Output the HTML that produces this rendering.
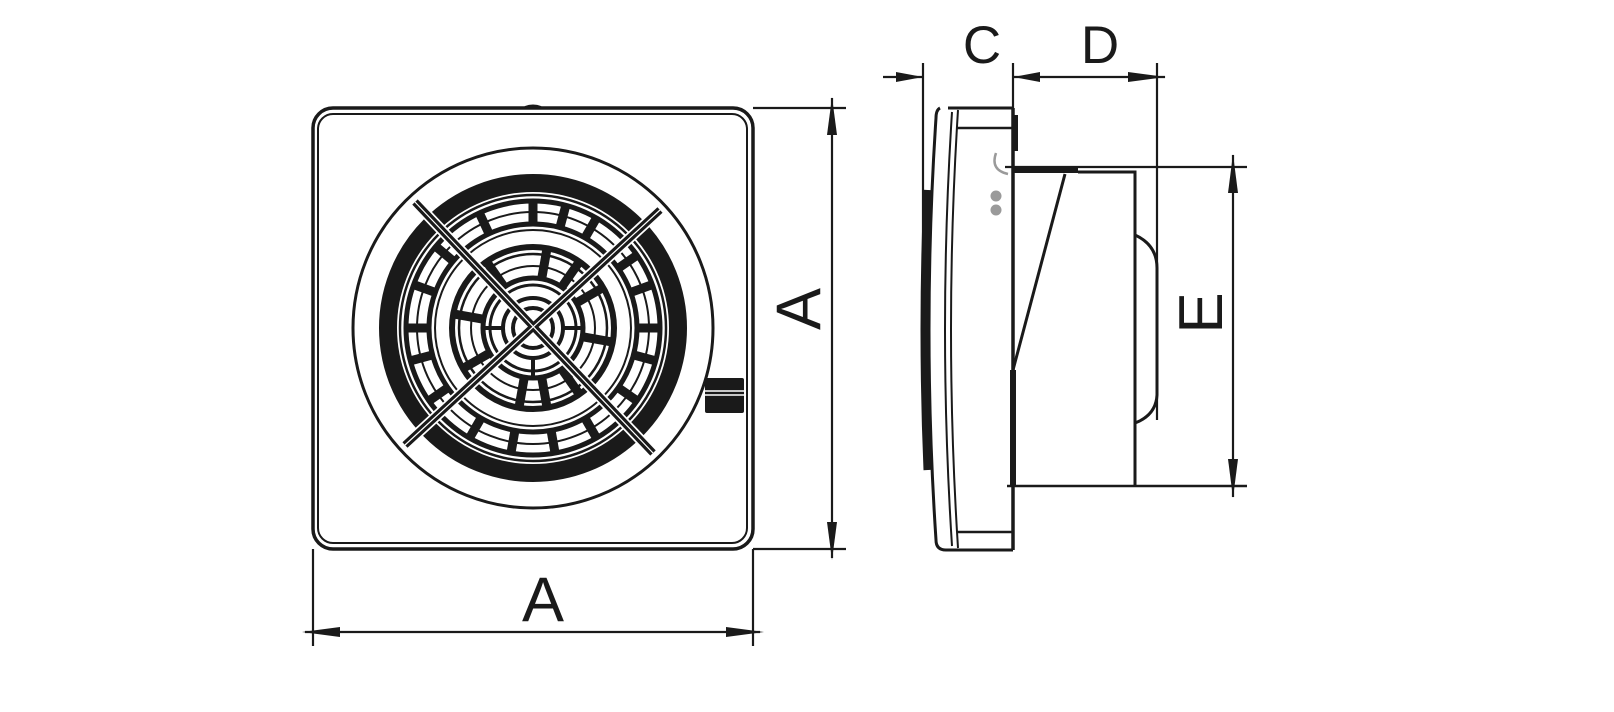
<!DOCTYPE html>
<html><head><meta charset="utf-8"><style>html,body{margin:0;padding:0;background:#fff}svg{display:block}</style></head>
<body>
<svg width="1614" height="712" viewBox="0 0 1614 712" xmlns="http://www.w3.org/2000/svg" font-family="Liberation Sans, sans-serif" fill="none" stroke="#1a1a1a">
<!-- FRONT VIEW -->
<rect x="313" y="108" width="440" height="441" rx="20" stroke-width="3.5"/>
<rect x="318" y="114" width="429" height="429" rx="15" stroke-width="2"/>
<path d="M525,107 Q533,104 541,107" stroke-width="2"/>
<circle cx="533" cy="328" r="180" stroke-width="3"/>
<g transform="translate(533,328)">
  <circle r="145" stroke-width="18"/>
  <circle r="133" stroke-width="2.5"/>
  <circle r="127" stroke-width="5"/>
  <circle r="116" stroke-width="2"/>
  <circle r="104" stroke-width="5"/>
  <circle r="98" stroke-width="2"/>
  <circle r="81" stroke-width="6"/>
  <circle r="74" stroke-width="2.5"/>
  <circle r="62" stroke-width="2"/>
  <circle r="50" stroke-width="5"/>
  <circle r="43" stroke-width="3"/>
  <circle r="30" stroke-width="4"/>
  <circle r="20" stroke-width="4"/>
  <circle r="5" stroke-width="3"/>
  <g stroke-width="9">
    <line x1="0" y1="-104" x2="0" y2="-128"/>
    <line x1="0" y1="-104" x2="0" y2="-128" transform="rotate(15)"/>
    <line x1="0" y1="-104" x2="0" y2="-128" transform="rotate(30)"/>
    <line x1="0" y1="-104" x2="0" y2="-128" transform="rotate(55)"/>
    <line x1="0" y1="-104" x2="0" y2="-128" transform="rotate(70)"/>
    <line x1="0" y1="-104" x2="0" y2="-128" transform="rotate(90)"/>
    <line x1="0" y1="-104" x2="0" y2="-128" transform="rotate(105)"/>
    <line x1="0" y1="-104" x2="0" y2="-128" transform="rotate(125)"/>
    <line x1="0" y1="-104" x2="0" y2="-128" transform="rotate(150)"/>
    <line x1="0" y1="-104" x2="0" y2="-128" transform="rotate(170)"/>
    <line x1="0" y1="-104" x2="0" y2="-128" transform="rotate(190)"/>
    <line x1="0" y1="-104" x2="0" y2="-128" transform="rotate(210)"/>
    <line x1="0" y1="-104" x2="0" y2="-128" transform="rotate(235)"/>
    <line x1="0" y1="-104" x2="0" y2="-128" transform="rotate(255)"/>
    <line x1="0" y1="-104" x2="0" y2="-128" transform="rotate(270)"/>
    <line x1="0" y1="-104" x2="0" y2="-128" transform="rotate(290)"/>
    <line x1="0" y1="-104" x2="0" y2="-128" transform="rotate(310)"/>
    <line x1="0" y1="-104" x2="0" y2="-128" transform="rotate(335)"/>
    <line x1="0" y1="-52" x2="0" y2="-80" transform="rotate(10)"/>
    <line x1="0" y1="-52" x2="0" y2="-80" transform="rotate(35)"/>
    <line x1="0" y1="-52" x2="0" y2="-80" transform="rotate(60)"/>
    <line x1="0" y1="-52" x2="0" y2="-80" transform="rotate(100)"/>
    <line x1="0" y1="-52" x2="0" y2="-80" transform="rotate(145)"/>
    <line x1="0" y1="-52" x2="0" y2="-80" transform="rotate(170)"/>
    <line x1="0" y1="-52" x2="0" y2="-80" transform="rotate(190)"/>
    <line x1="0" y1="-52" x2="0" y2="-80" transform="rotate(240)"/>
    <line x1="0" y1="-52" x2="0" y2="-80" transform="rotate(280)"/>
    <line x1="0" y1="-52" x2="0" y2="-80" transform="rotate(325)"/>
  </g>
  <g stroke-width="4">
    <line x1="-30" y1="0" x2="-50" y2="0"/><line x1="30" y1="0" x2="50" y2="0"/>
    <line x1="0" y1="30" x2="0" y2="50"/>
  </g>
</g>
<g stroke-linecap="butt">
  <line x1="415" y1="202" x2="653" y2="453" stroke="#fff" stroke-width="11"/>
  <line x1="660" y1="210" x2="405" y2="445" stroke="#fff" stroke-width="11"/>
  <line x1="415" y1="202" x2="653" y2="453" stroke-width="7.5"/>
  <line x1="660" y1="210" x2="405" y2="445" stroke-width="7.5"/>
  <line x1="415" y1="202" x2="653" y2="453" stroke="#fff" stroke-width="1.2"/>
  <line x1="660" y1="210" x2="405" y2="445" stroke="#fff" stroke-width="1.2"/>
</g>
<rect x="705" y="378" width="39" height="35" rx="2" fill="#1a1a1a" stroke="none"/>
<line x1="705" y1="391" x2="744" y2="391" stroke="#fff" stroke-width="1.5"/>
<line x1="705" y1="395" x2="744" y2="395" stroke="#fff" stroke-width="1.5"/>

<!-- dimension A -->
<g stroke-width="2.2">
  <line x1="313" y1="549" x2="313" y2="646"/>
  <line x1="753" y1="549" x2="753" y2="646"/>
  <line x1="305" y1="632" x2="760" y2="632"/>
  <line x1="753" y1="108" x2="846" y2="108"/>
  <line x1="753" y1="549" x2="846" y2="549"/>
  <line x1="832" y1="98" x2="832" y2="558"/>
</g>
<g fill="#1a1a1a" stroke="none">
  <polygon points="302,632 340,627 340,637"/>
  <polygon points="764,632 726,627 726,637"/>
  <polygon points="832,97 827,135 837,135"/>
  <polygon points="832,560 827,522 837,522"/>
</g>
<text x="543" y="621" font-size="63" text-anchor="middle" fill="#1a1a1a" stroke="none">A</text>
<text transform="translate(820,309) rotate(-90)" font-size="63" text-anchor="middle" fill="#1a1a1a" stroke="none">A</text>

<!-- SIDE VIEW -->
<path d="M948,108 L1013,108 M940,108 Q936,110 936,118 Q922,330 936,540 Q936,550 946,550 L1013,550" stroke-width="3"/>
<path d="M952,112 Q938,330 952,546" stroke-width="2"/>
<path d="M958,110 Q944,330 958,548" stroke-width="2"/>
<line x1="957" y1="128" x2="1013" y2="128" stroke-width="2.5"/>
<line x1="957" y1="532" x2="1013" y2="532" stroke-width="2.5"/>
<path d="M928,190 Q922,330 928,470" stroke-width="9"/>
<line x1="1013" y1="108" x2="1013" y2="550" stroke-width="3.5"/>
<line x1="1013" y1="370" x2="1013" y2="487" stroke-width="6"/>
<rect x="1013" y="115" width="5" height="36" fill="#1a1a1a" stroke="none"/>
<circle cx="996" cy="196" r="5.5" fill="#9a9a9a" stroke="none"/>
<circle cx="996" cy="210" r="5.5" fill="#9a9a9a" stroke="none"/>
<path d="M996,153 Q990,170 1008,174" stroke="#9a9a9a" stroke-width="2.5"/>
<line x1="1005" y1="167" x2="1247" y2="167" stroke-width="2.2"/>
<path d="M1013,166 L1078,167 L1078,173 L1013,173 Z" fill="#1a1a1a" stroke="none"/>
<path d="M1078,172 L1135,172 L1135,486" stroke-width="3"/>
<line x1="1007" y1="486" x2="1247" y2="486" stroke-width="2.5"/>
<line x1="1065" y1="174" x2="1013" y2="370" stroke-width="3"/>
<path d="M1135,235 Q1157,245 1157,268 L1157,395 Q1156,415 1135,423" stroke-width="3"/>
<g stroke-width="2.2">
  <line x1="923" y1="63" x2="923" y2="330"/>
  <line x1="1013" y1="63" x2="1013" y2="108"/>
  <line x1="1157" y1="63" x2="1157" y2="420"/>
  <line x1="883" y1="77" x2="923" y2="77"/>
  <line x1="1013" y1="77" x2="1165" y2="77"/>
  <line x1="1233" y1="155" x2="1233" y2="497"/>
</g>
<g fill="#1a1a1a" stroke="none">
  <polygon points="923,77 896,72 896,82"/>
  <polygon points="1013,77 1040,72 1040,82"/>
  <polygon points="1166,77 1128,72 1128,82"/>
  <polygon points="1233,154 1228,193 1238,193"/>
  <polygon points="1233,498 1228,459 1238,459"/>
</g>
<text x="982" y="63" font-size="53" text-anchor="middle" fill="#1a1a1a" stroke="none">C</text>
<text x="1100" y="63" font-size="53" text-anchor="middle" fill="#1a1a1a" stroke="none">D</text>
<text transform="translate(1222,313) rotate(-90)" font-size="62" text-anchor="middle" fill="#1a1a1a" stroke="none">E</text>
</svg>
</body></html>
